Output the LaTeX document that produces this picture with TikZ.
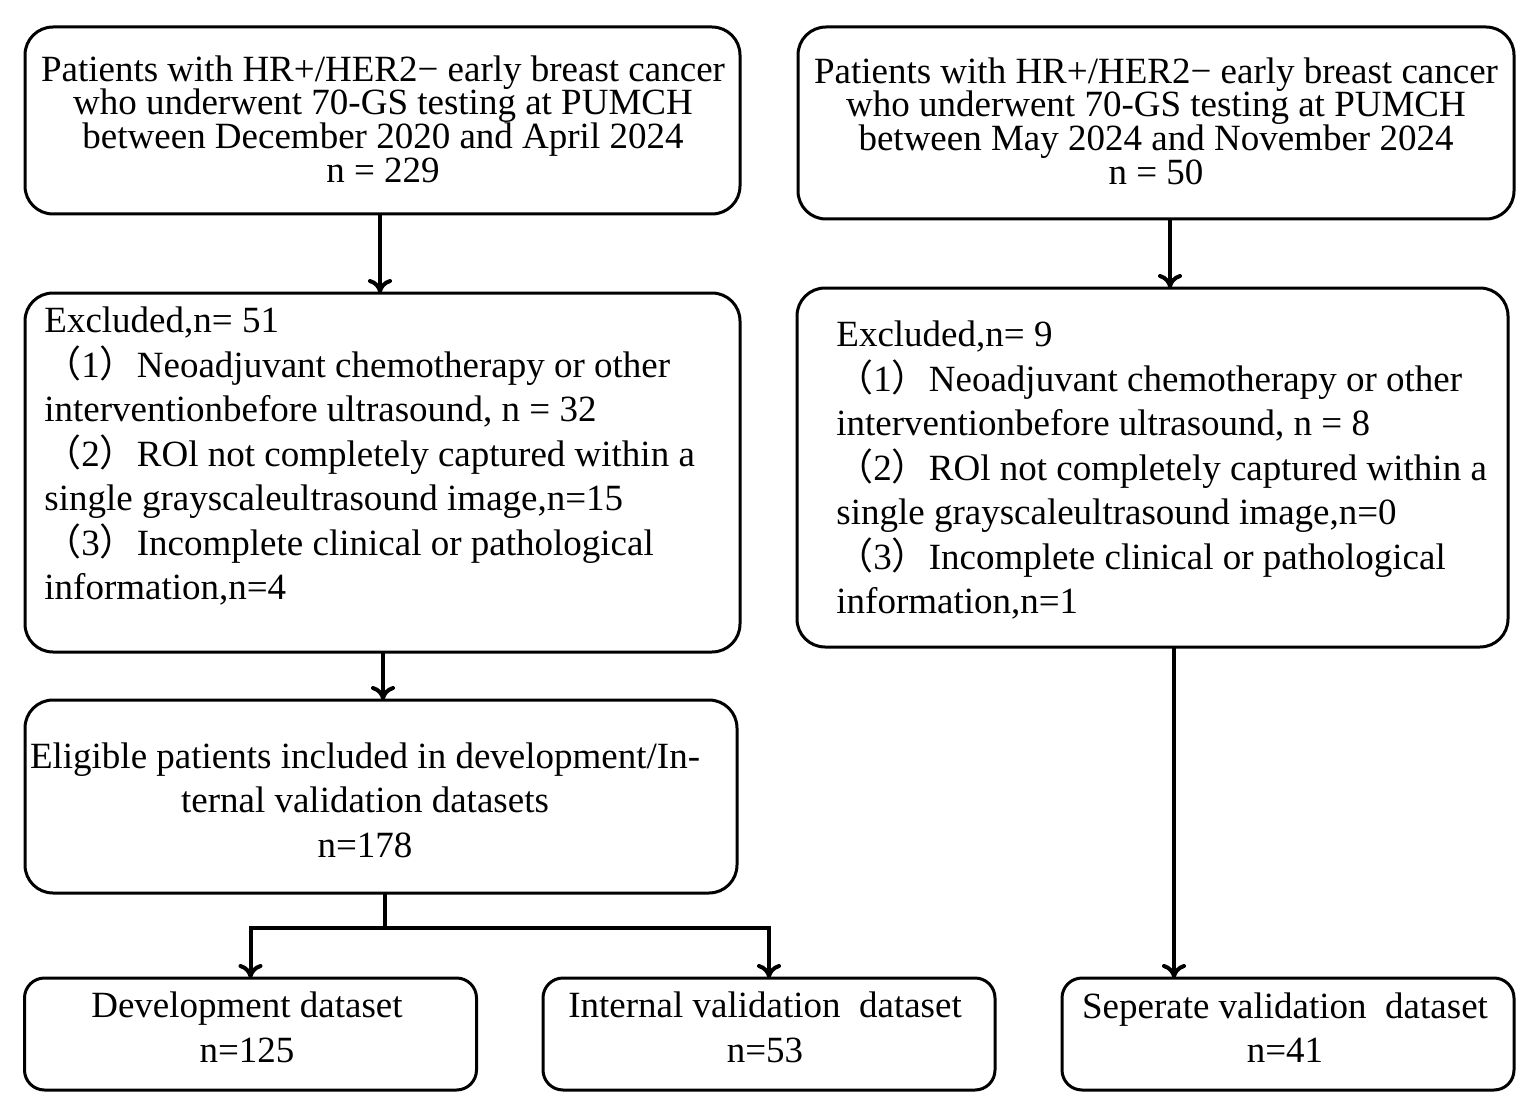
\documentclass[tikz,border=0pt]{standalone}
\usepackage{fontspec}
\setmainfont{Liberation Serif}
\newfontfamily\cjk{Noto Sans CJK SC}
\newcommand{\lpar}{{\cjk （}}
\newcommand{\rpar}{{\cjk ）}}
\usetikzlibrary{arrows.meta}
\begin{document}
\begin{tikzpicture}[x=0.5pt,y=-0.5pt,
  box/.style={draw, line width=1.5pt, rectangle, rounded corners=14pt, inner sep=0pt, outer sep=0pt},
  sbox/.style={box, rounded corners=10pt, minimum width=226pt, minimum height=56pt},
  tight/.style={font={\fontsize{18.5pt}{16.8pt}\selectfont\lineskiplimit=-100pt}, inner sep=0pt, align=center},
  body/.style={font={\fontsize{18.5pt}{22.25pt}\selectfont\lineskiplimit=-100pt}, inner sep=0pt},
  conn/.style={line width=2pt},
  arr/.style={conn, -{Computer Modern Rightarrow[length=7pt,width=12pt]}}]
\useasboundingbox (0,0) rectangle (1538,1113);
% boxes
\node[box, minimum width=357.5pt, minimum height=93.5pt] (A) at (382.5,120.5) {};
\node[box, minimum width=358pt, minimum height=96pt] (B) at (1156,123) {};
\node[box, minimum width=357.5pt, minimum height=179.5pt] (C) at (382.5,472.5) {};
\node[box, minimum width=355.5pt, minimum height=179.5pt] (D) at (1152.5,467.5) {};
\node[box, minimum width=356pt, minimum height=96.5pt] (E) at (381,796.5) {};
\node[sbox] (F) at (250.5,1034) {};
\node[sbox] (G) at (769,1034) {};
\node[sbox] (H) at (1288,1034) {};
% texts
\node[tight] (At) at (383,119) {Patients with HR+/HER2− early breast cancer\\who underwent 70-GS testing at PUMCH\\between December 2020 and April 2024\\n = 229};
\node[tight] (Bt) at (1156,121) {Patients with HR+/HER2− early breast cancer\\who underwent 70-GS testing at PUMCH\\between May 2024 and November 2024\\n = 50};
\node[body, align=left, anchor=west] (Ct) at (44,456.5) {Excluded,n= 51\\\lpar1\rpar Neoadjuvant chemotherapy or other\\interventionbefore ultrasound, n = 32\\\lpar2\rpar ROl not completely captured within a\\single grayscaleultrasound image,n=15\\\lpar3\rpar Incomplete clinical or pathological\\information,n=4};
\node[body, align=left, anchor=west] (Dt) at (836,470.5) {Excluded,n= 9\\\lpar1\rpar Neoadjuvant chemotherapy or other\\interventionbefore ultrasound, n = 8\\\lpar2\rpar ROl not completely captured within a\\single grayscaleultrasound image,n=0\\\lpar3\rpar Incomplete clinical or pathological\\information,n=1};
\node[body, align=center] (Et) at (365,800) {Eligible patients included in development/In-\\ternal validation datasets\\n=178};
\node[body, align=center] (Ft) at (247,1027.5) {Development dataset\\n=125};
\node[body, align=center] (Gt) at (765,1027.5) {Internal validation\ \ dataset\\n=53};
\node[body, align=center] (Ht) at (1285,1027.5) {Seperate validation\ \ dataset\\n=41};
% connectors
\coordinate (ac) at (380,0);
\coordinate (bd) at (1170,0);
\coordinate (ce) at (383,0);
\coordinate (dh) at (1174,0);
\coordinate (br) at (385,928);
\draw[arr] (A.south -| ac) -- (C.north -| ac);
\draw[arr] (B.south -| bd) -- (D.north -| bd);
\draw[arr] (C.south -| ce) -- (E.north -| ce);
\draw[arr] (D.south -| dh) -- (H.north -| dh);
\draw[conn] (E.south -| br) -- (br);
\draw[arr] (br) -| (F.north);
\draw[arr] (br) -| (G.north);
\end{tikzpicture}
\end{document}
